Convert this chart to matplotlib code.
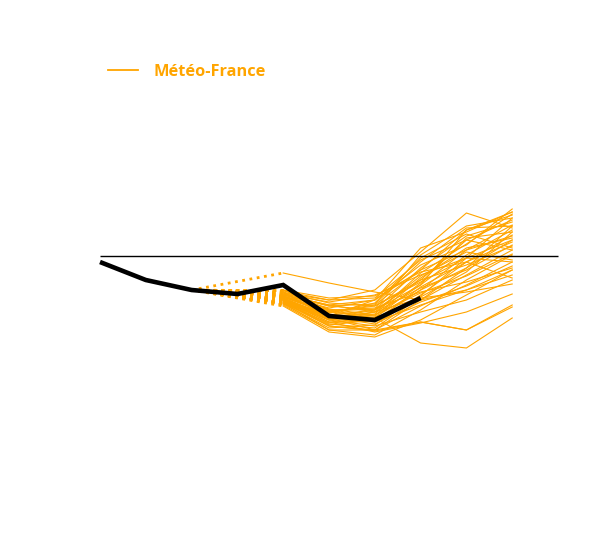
import matplotlib.pyplot as plt
from matplotlib.lines import Line2D

# observed series (black) at steps 0..7
obs_x = [0, 1, 2, 3, 4, 5, 6, 7]
obs_y = [-0.6, -2.4, -3.4, -3.8, -2.9, -6.0, -6.4, -4.2]

# ensemble members, steps 4..9
ens_x = [4, 5, 6, 7, 8, 9]
members = [
    [-1.7, -2.7, -3.6, -4.4, -3.4, -1.4],
    [-3.4, -5.4, -6.2, -8.7, -9.2, -6.2],
    [-3.6, -6.2, -7.4, -6.6, -7.4, -4.9],
    [-3.9, -4.9, -4.4, 0.8, 2.4, 4.4],
    [-3.7, -4.4, -3.4, 0.4, 4.3, 2.8],
    [-4.1, -5.6, -4.9, -1.4, 2.6, 4.1],
    [-4.3, -5.9, -5.4, -2.4, 1.6, 3.6],
    [-4.4, -6.4, -5.9, -2.9, 0.6, 3.1],
    [-4.6, -6.9, -6.4, -3.4, 0.1, 2.6],
    [-4.8, -7.2, -6.9, -3.9, -0.6, 2.1],
    [-4.9, -7.4, -7.4, -4.4, -1.2, 1.6],
    [-4.0, -5.2, -4.4, -0.9, 1.1, 4.7],
    [-4.2, -6.2, -5.6, -3.2, -1.4, 1.1],
    [-4.5, -6.6, -6.2, -4.4, -1.9, 0.6],
    [-4.7, -7.4, -7.9, -5.4, -2.4, 0.1],
    [-3.8, -4.6, -3.9, -1.9, -0.2, -0.6],
    [-4.1, -5.4, -5.2, -3.6, -2.6, -1.2],
    [-4.4, -6.0, -6.6, -4.9, -3.4, -1.9],
    [-4.6, -6.4, -7.0, -5.6, -4.4, -2.4],
    [-5.0, -7.6, -8.1, -6.4, -3.9, -1.4],
    [-3.5, -4.4, -4.2, -0.4, 1.6, 0.6],
    [-3.7, -5.0, -5.4, -1.2, 2.0, 3.4],
    [-4.0, -5.6, -6.0, -2.2, 0.8, 1.8],
    [-4.3, -6.2, -6.6, -3.1, -0.6, 1.4],
    [-4.5, -6.8, -7.2, -4.1, -1.6, 2.4],
    [-4.7, -5.6, -5.0, -2.6, -0.2, 3.8],
    [-3.9, -5.0, -4.8, -0.6, 2.8, 3.0],
    [-4.1, -5.8, -6.2, -2.7, 1.8, 2.4],
    [-4.3, -6.4, -5.6, -2.0, 0.4, -0.4],
    [-4.6, -7.0, -7.4, -5.0, -2.9, -0.6],
    [-4.8, -6.0, -4.4, -1.4, 0.6, 2.0],
    [-3.6, -4.7, -5.0, -2.4, -0.9, 1.0],
    [-3.8, -5.3, -5.9, -3.7, -2.0, 0.2],
    [-4.2, -6.1, -6.8, -4.6, -3.0, -1.0],
    [-4.4, -6.6, -7.6, -6.7, -5.6, -3.8],
    [-4.7, -7.0, -7.5, -6.6, -7.4, -5.1],
    [-4.0, -5.5, -5.3, 0.1, 3.0, 3.8],
    [-4.2, -6.0, -5.8, -1.7, 1.2, 4.2],
    [-4.5, -6.3, -6.1, -3.4, -1.2, 3.0],
    [-3.4, -4.2, -4.0, -1.6, -0.6, -2.2],
    [-3.9, -4.9, -5.6, -4.2, -3.6, -2.8],
    [-4.7, -6.7, -6.4, -4.0, -0.2, 1.6],
    [-4.1, -5.7, -4.7, -0.2, 2.2, 0.8],
    [-4.4, -6.2, -5.4, -2.9, 2.6, 4.4],
]
ens_label = 'Météo-France'
ens_color = '#FFA500'

fig = plt.figure(figsize=(6, 5.4), dpi=100)
ax = fig.add_axes([0, 0, 1, 1])

# dotted links from observation at step 2 to each member start
for m in members:
    ax.plot([obs_x[2], ens_x[0]], [obs_y[2], m[0]], color=ens_color,
            lw=2, ls=':', zorder=2)

for m in members:
    ax.plot(ens_x, m, color=ens_color, lw=0.8, zorder=2)

ax.plot(obs_x, obs_y, color='black', lw=3.3, zorder=4,
        solid_joinstyle='miter', solid_capstyle='butt')
ax.hlines(0, 0, 10, color='black', lw=1, zorder=3)

ax.set_xlim(-100 / 45.8, 500 / 45.8)
ax.set_ylim(-28.4, 25.6)
ax.axis('off')

h = Line2D([], [], color=ens_color, lw=1.3)
leg = ax.legend([h], [ens_label], loc='upper left',
                bbox_to_anchor=(108 / 600, 1 - 64 / 540),
                bbox_transform=fig.transFigure, frameon=False,
                borderpad=0, borderaxespad=0, handlelength=1.8,
                handletextpad=0.95,
                prop={'family': 'Open Sans', 'weight': 'bold', 'size': 11.8})
for t in leg.get_texts():
    t.set_color(ens_color)

fig.savefig('out.png', dpi=100)
